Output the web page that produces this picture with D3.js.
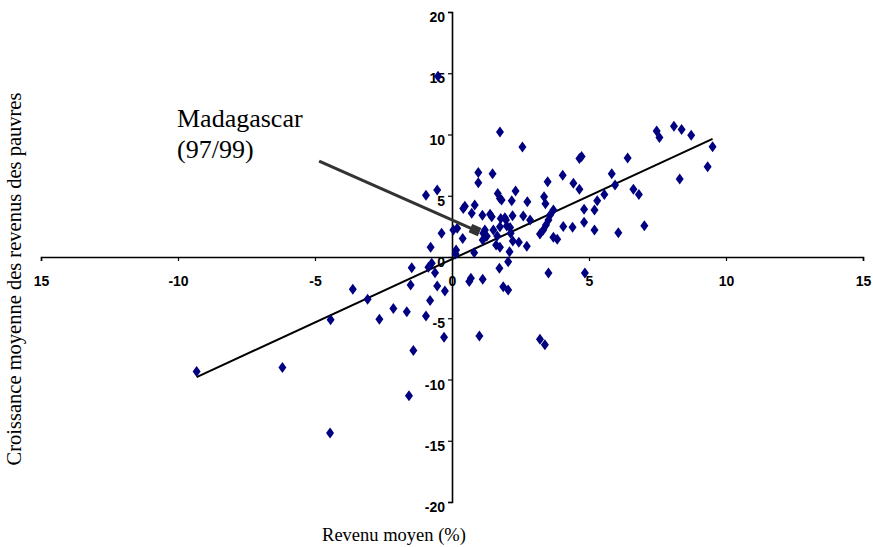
<!DOCTYPE html>
<html>
<head>
<meta charset="utf-8">
<script src="https://cdn.jsdelivr.net/npm/d3@7"></script>
<style>
  html, body { margin: 0; padding: 0; background: #fff; }
  svg { display: block; }
</style>
</head>
<body>
<svg id="chart" width="873" height="547"></svg>
<script>
// Mean income growth (%) by spell
const revenuMoyen = [
  -9.32, -6.19, -4.45, -4.43, -3.62, -3.08, -2.65, -2.14, -1.65, -1.57,
  -1.47, -1.51, -1.41, -0.95, -0.86, -0.74, -0.62, -0.54, -0.26, -0.80,
  -0.29, -0.78, -0.38, -0.95, -0.54, -0.51, 0.13, 0.15,
  0.05, 0.19, 0.39, 0.41, 0.47, 0.83, 0.72, 1.11, 1.39, 1.45,
  0.96, 1.48, 0.96, 1.75, 2.57, 1.67, 1.75, 1.81, 2.32, 2.18, 2.75,
  1.78, 1.93, 1.97, 2.21, 2.60, 2.85, 1.75, 2.00, 2.12, 2.14,
  1.20, 1.14, 1.27, 1.12, 1.51, 1.65, 1.61, 1.75, 2.22, 2.44, 2.73,
  2.10, 0.81, 1.73, 2.05, 3.52, 4.85, 0.63, 0.69, 1.12, 1.87, 2.05,
  1.00, 3.21, 3.39, 3.49, 4.04, 4.65, 4.73, 4.43, 4.65, 5.83, 5.95,
  3.36, 3.41, 3.70, 3.58, 3.52, 3.43, 3.33, 3.21, 4.06, 4.40, 4.82,
  4.82, 5.20, 5.20, 5.30, 5.56, 6.07, 7.47, 7.57, 8.10, 8.38, 8.73,
  9.51, 9.33, 8.31, 6.41, 6.62, 6.82, 7.02, 3.70, 3.84
];
// Mean income growth of the poor (%)
const croissancePauvres = [
  -9.35, -9.02, -14.37, -5.13, -2.64, -3.45, -5.08, -4.21, -4.46, -11.33,
  -0.87, -2.28, -7.63, -4.81, -0.84, -0.52, -1.28, -2.36, -2.77, -3.56,
  -6.55, 0.79, 1.93, 5.05, 5.46, 14.75, 0.24, 0.57,
  2.20, 2.34, 1.52, 3.95, 4.15, 4.24, 3.58, 3.40, 3.50, 3.28,
  6.90, 6.79, 6.06, 10.21, 8.97, 5.19, 4.78, 4.65, 5.38, 4.59, 4.51,
  3.15, 3.20, 3.02, 3.37, 3.34, 3.02, 2.47, 2.53, 2.40, 1.93,
  2.20, 1.93, 1.70, 1.39, 2.20, 1.71, 0.98, 0.79, 1.30, 1.20, 0.87,
  0.43, 0.35, -0.92, -0.38, -1.30, -1.30, -2.01, -1.74, -1.82, -2.42, -2.69,
  -6.44, -6.71, -7.17, 6.15, 6.68, 8.04, 8.20, 6.03, 5.53, 6.79, 5.87,
  4.91, 4.35, 3.83, 3.42, 3.02, 2.61, 2.20, 1.87, 2.50, 2.42, 3.89,
  2.83, 3.83, 2.20, 4.59, 5.11, 1.98, 10.29, 9.76, 10.68, 10.41, 9.94,
  8.99, 7.36, 6.36, 8.09, 5.54, 5.11, 2.55, 1.61, 1.44
];

const xTickValues = [-15, -10, -5, 0, 5, 10, 15];
const xTickLabels = ["15", "-10", "-5", "0", "5", "10", "15"];
const yTickValues = [-20, -15, -10, -5, 0, 5, 10, 15, 20];
const yTickLabels = ["-20", "-15", "-10", "-5", "0", "5", "10", "15", "20"];

const annotationLines = ["Madagascar", "(97/99)"];
const annotationFrom = [-4.85, 7.82];
const annotationTo = [0.84, 2.2];

const xTitle = "Revenu moyen (%)";
const yTitle = "Croissance moyenne des revenus des pauvres";

const svg = d3.select("#chart");
const x = d3.scaleLinear().domain([-15, 15]).range([41, 863]);
const y = d3.scaleLinear().domain([-20, 20]).range([502, 12]);

const points = revenuMoyen.map((v, i) => ({ x: v, y: croissancePauvres[i] }));

// Least-squares trend line over the observed range
const mx = d3.mean(points, d => d.x), my = d3.mean(points, d => d.y);
const slope = d3.sum(points, d => (d.x - mx) * (d.y - my)) / d3.sum(points, d => (d.x - mx) ** 2);
const intercept = my - slope * mx;
const [xmin, xmax] = d3.extent(points, d => d.x);
const trend = [xmin, xmax].map(v => ({ x: v, y: intercept + slope * v }));

const tickFont = "bold 14px 'Liberation Sans', Arial, sans-serif";

// Horizontal axis through y = 0
const xAxis = d3.axisBottom(x)
  .tickValues(xTickValues)
  .tickFormat((d, i) => xTickLabels[i])
  .tickSize(4).tickSizeOuter(4).tickPadding(15);
const gx = svg.append("g").attr("transform", `translate(0,${y(0)})`).call(xAxis);
gx.select(".domain").attr("stroke", "#000").attr("stroke-width", 1.6);
gx.selectAll(".tick line").attr("stroke", "#000").attr("stroke-width", 1.2);
gx.selectAll("text").style("font", tickFont).attr("fill", "#000");

// Vertical axis through x = 0
const yAxis = d3.axisLeft(y)
  .tickValues(yTickValues)
  .tickFormat((d, i) => yTickLabels[i])
  .tickSize(4).tickSizeOuter(4).tickPadding(3);
const gy = svg.append("g").attr("transform", `translate(${x(0)},0)`).call(yAxis);
gy.select(".domain").attr("stroke", "#000").attr("stroke-width", 1.6);
gy.selectAll(".tick line").attr("stroke", "#000").attr("stroke-width", 1.2);
gy.selectAll("text").style("font", tickFont).attr("fill", "#000").attr("dy", "0.68em");

// Trend line
svg.append("line")
  .attr("x1", x(trend[0].x)).attr("y1", y(trend[0].y))
  .attr("x2", x(trend[1].x)).attr("y2", y(trend[1].y))
  .attr("stroke", "#000").attr("stroke-width", 2);

// Diamond markers
const diamond = "M0,-5.5L4,0L0,5.5L-4,0Z";
svg.append("g").selectAll("path").data(points).join("path")
  .attr("d", diamond)
  .attr("transform", d => `translate(${x(d.x)},${y(d.y)})`)
  .attr("fill", "#000080");

// Annotation arrow with square head
const ax1 = x(annotationFrom[0]), ay1 = y(annotationFrom[1]);
const ax2 = x(annotationTo[0]), ay2 = y(annotationTo[1]);
const ang = Math.atan2(ay2 - ay1, ax2 - ax1) * 180 / Math.PI;
svg.append("line")
  .attr("x1", ax1).attr("y1", ay1).attr("x2", ax2).attr("y2", ay2)
  .attr("stroke", "#333").attr("stroke-width", 3);
svg.append("rect")
  .attr("x", -5).attr("y", -4.5).attr("width", 10).attr("height", 9)
  .attr("transform", `translate(${ax2},${ay2}) rotate(${ang})`)
  .attr("fill", "#333");

const ann = svg.append("text")
  .attr("x", 177).attr("y", 127)
  .style("font", "26px 'Liberation Serif', 'Times New Roman', serif")
  .attr("fill", "#000");
ann.selectAll("tspan").data(annotationLines).join("tspan")
  .attr("x", 177).attr("dy", (d, i) => i === 0 ? 0 : 31)
  .text(d => d);

// Axis titles
svg.append("text")
  .attr("x", 394).attr("y", 541)
  .attr("text-anchor", "middle")
  .style("font", "18.5px 'Liberation Serif', 'Times New Roman', serif")
  .text(xTitle);

svg.append("text")
  .attr("transform", "translate(21,279) rotate(-90)")
  .attr("text-anchor", "middle")
  .style("font", "20.5px 'Liberation Serif', 'Times New Roman', serif")
  .text(yTitle);
</script>
</body>
</html>
